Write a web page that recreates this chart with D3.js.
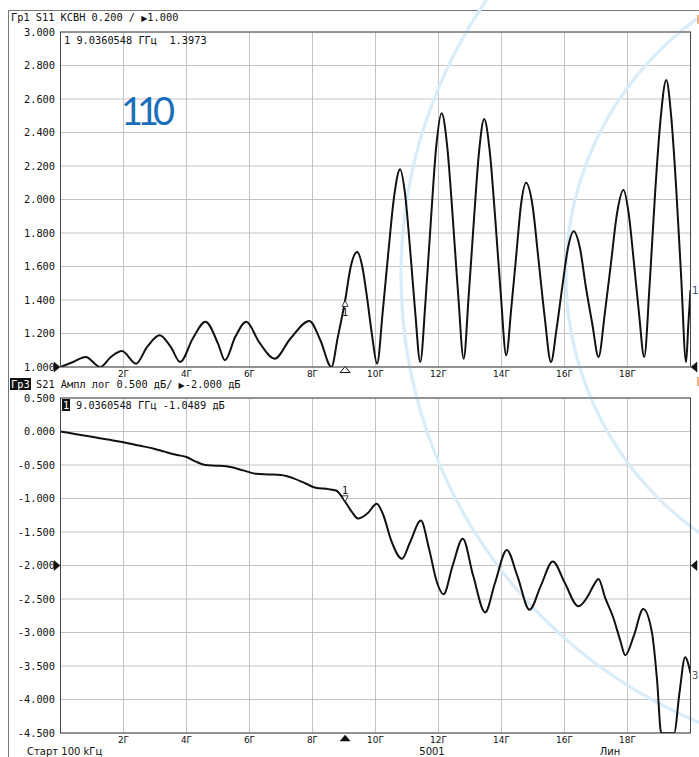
<!DOCTYPE html>
<html><head><meta charset="utf-8">
<script src="https://cdn.jsdelivr.net/npm/d3@7"></script>
<style>body{margin:0;background:#fff}svg{display:block}</style>
</head><body><svg id="c" width="699" height="757"></svg>
<script>
// ---------- data ----------
const freqTicks = [2, 4, 6, 8, 10, 12, 14, 16, 18];
const freqTickLabels = ["2Г", "4Г", "6Г", "8Г", "10Г", "12Г", "14Г", "16Г", "18Г"];
const vswrTicks = [3.0, 2.8, 2.6, 2.4, 2.2, 2.0, 1.8, 1.6, 1.4, 1.2, 1.0];
const vswrTickLabels = ["3.000", "2.800", "2.600", "2.400", "2.200", "2.000", "1.800", "1.600", "1.400", "1.200", "1.000"];
const dbTicks = [0.5, 0, -0.5, -1, -1.5, -2, -2.5, -3, -3.5, -4, -4.5];
const dbTickLabels = ["0.500", "0.000", "-0.500", "-1.000", "-1.500", "-2.000", "-2.500", "-3.000", "-3.500", "-4.000", "-4.500"];

const s11Freq = [0, 0.4, 0.8, 1.26, 1.6, 1.95, 2.4, 2.75, 3.15, 3.5, 3.8, 4.2, 4.6, 5.0, 5.22, 5.55, 5.9, 6.3, 6.8, 7.3, 7.9, 8.25, 8.6,
  8.805, 9.036, 9.215, 9.42, 9.58, 9.735, 9.89, 10.05, 10.23, 10.415, 10.6, 10.78, 10.94, 11.10, 11.26, 11.42,
  11.59, 11.76, 11.93, 12.1, 12.275, 12.45, 12.625, 12.8, 12.96, 13.125, 13.29, 13.45, 13.625, 13.80, 13.975, 14.15,
  14.31, 14.465, 14.62, 14.78, 14.98, 15.175, 15.37, 15.57, 15.75, 15.93, 16.11, 16.29, 16.49, 16.685, 16.88, 17.08,
  17.28, 17.475, 17.67, 17.87, 18.035, 18.2, 18.365, 18.53, 18.705, 18.88, 19.055, 19.23, 19.39, 19.545, 19.70, 19.86, 19.93, 20.0];
const s11Vswr = [1.00, 1.03, 1.06, 1.00, 1.06, 1.095, 1.02, 1.12, 1.19, 1.12, 1.03, 1.17, 1.27, 1.14, 1.04, 1.18, 1.27, 1.15, 1.05, 1.17, 1.275, 1.16, 1.00,
  1.18, 1.397, 1.60, 1.687, 1.60, 1.41, 1.19, 1.02, 1.33, 1.70, 2.03, 2.18, 2.03, 1.70, 1.33, 1.03,
  1.40, 1.88, 2.32, 2.515, 2.32, 1.90, 1.43, 1.05, 1.43, 1.88, 2.29, 2.48, 2.29, 1.89, 1.44, 1.07,
  1.35, 1.66, 1.97, 2.10, 1.97, 1.64, 1.30, 1.03, 1.23, 1.48, 1.71, 1.81, 1.71, 1.47, 1.26, 1.06,
  1.32, 1.62, 1.92, 2.057, 1.92, 1.63, 1.32, 1.06, 1.50, 2.05, 2.49, 2.713, 2.49, 2.07, 1.55, 1.03, 1.25, 1.46];

const s21Freq = [0, 0.5, 1.0, 1.5, 2.0, 2.5, 3.0, 3.3, 3.7, 4.0, 4.3, 4.6, 5.0, 5.4, 5.8, 6.2, 6.6, 7.0, 7.4, 7.8, 8.1, 8.5, 8.75,
  9.036, 9.25, 9.45, 9.75, 10.04, 10.25, 10.5, 10.84, 11.1, 11.44, 11.7, 11.95, 12.16, 12.45, 12.77, 13.1, 13.48, 13.8,
  14.17, 14.5, 14.89, 15.25, 15.63, 16.0, 16.44, 16.75, 16.92, 17.08, 17.29, 17.55, 17.77, 17.93, 18.2, 18.5, 18.78, 18.94,
  19.07, 19.27, 19.48, 19.65, 19.83, 20.0];
const s21Db = [0, -0.04, -0.08, -0.12, -0.16, -0.21, -0.26, -0.30, -0.35, -0.38, -0.45, -0.50, -0.51, -0.53, -0.58, -0.63, -0.64, -0.65, -0.70, -0.78, -0.84, -0.86, -0.88,
  -1.049, -1.20, -1.30, -1.22, -1.08, -1.25, -1.63, -1.90, -1.65, -1.33, -1.75, -2.25, -2.43, -2.00, -1.60, -2.15, -2.70, -2.25,
  -1.77, -2.15, -2.66, -2.30, -1.94, -2.25, -2.61, -2.45, -2.30, -2.20, -2.48, -2.78, -3.12, -3.34, -3.05, -2.65, -3.01, -3.72,
  -4.50, -4.75, -4.50, -3.90, -3.37, -3.61];

const markerFreq = 9.0360548, markerVswr = 1.3973, markerDb = -1.0489;

// ---------- layout ----------
const svg = d3.select("#c");
const X0 = 60.5, X1 = 690.5;
const x = d3.scaleLinear().domain([0, 20]).range([X0, X1]);
const yTop = d3.scaleLinear().domain([1, 3]).range([367, 32]);
const yBot = d3.scaleLinear().domain([-4.5, 0.5]).range([733, 398]);
const mono = "'DejaVu Sans Mono', monospace";
const sans = "'DejaVu Sans', sans-serif";

// outer frame
svg.append("line").attr("x1", 8.5).attr("x2", 699).attr("y1", 10.5).attr("y2", 10.5).attr("stroke", "#777");
svg.append("line").attr("x1", 8.5).attr("x2", 8.5).attr("y1", 10.5).attr("y2", 757).attr("stroke", "#777");

function panel(y, ticks, labels, clipId) {
  const g = svg.append("g");
  const [yb, yt] = y.range();
  g.selectAll(".hg").data(ticks).join("line")
    .attr("x1", X0).attr("x2", X1).attr("y1", d => y(d)).attr("y2", d => y(d))
    .attr("stroke", "#c4c4c4").attr("stroke-width", 1);
  g.selectAll(".vg").data(freqTicks).join("line")
    .attr("x1", d => x(d)).attr("x2", d => x(d)).attr("y1", yt).attr("y2", yb)
    .attr("stroke", "#c4c4c4").attr("stroke-width", 1);
  g.selectAll(".yl").data(ticks).join("text")
    .attr("x", 55).attr("y", d => y(d)).attr("dy", "0.35em")
    .attr("text-anchor", "end").attr("font-family", mono).attr("font-size", 10.3).attr("fill", "#111")
    .text((d, i) => labels[i]);
  g.selectAll(".xl").data(freqTicks).join("text")
    .attr("x", d => x(d)).attr("y", yb + 9.5)
    .attr("text-anchor", "middle").attr("font-family", sans).attr("font-size", 9).attr("fill", "#111")
    .text((d, i) => freqTickLabels[i]);
  svg.append("clipPath").attr("id", clipId).append("rect")
    .attr("x", X0).attr("y", yt).attr("width", X1 - X0).attr("height", yb - yt);
  return g;
}
panel(yTop, vswrTicks, vswrTickLabels, "clipTop");
panel(yBot, dbTicks, dbTickLabels, "clipBot");

// watermark arcs and logo
const wm = svg.append("g");
wm.append("circle").attr("cx", 886).attr("cy", 275).attr("r", 485).attr("fill", "none").attr("stroke", "#d9ecf9").attr("stroke-width", 3.2);
wm.append("circle").attr("cx", 882).attr("cy", 275).attr("r", 316).attr("fill", "none").attr("stroke", "#d9ecf9").attr("stroke-width", 3.2);
svg.append("text").attr("x", 121).attr("y", 124.5).attr("font-family", "Lato, sans-serif").attr("font-size", 38)
  .attr("font-weight", 400).attr("letter-spacing", -6).attr("fill", "#1b6fba").text("110");

// traces
const lineTop = d3.line().x(d => x(d[0])).y(d => yTop(d[1])).curve(d3.curveMonotoneX);
const lineBot = d3.line().x(d => x(d[0])).y(d => yBot(d[1])).curve(d3.curveMonotoneX);
svg.append("path").datum(d3.zip(s11Freq, s11Vswr)).attr("d", lineTop)
  .attr("fill", "none").attr("stroke", "#111").attr("stroke-width", 2).attr("clip-path", "url(#clipTop)");
svg.append("path").datum(d3.zip(s21Freq, s21Db.map(v => Math.max(v, -4.5)))).attr("d", lineBot)
  .attr("fill", "none").attr("stroke", "#111").attr("stroke-width", 2).attr("clip-path", "url(#clipBot)");

// frames
[yTop, yBot].forEach(y => {
  const [yb, yt] = y.range();
  svg.append("rect").attr("x", X0).attr("y", yt).attr("width", X1 - X0).attr("height", yb - yt)
    .attr("fill", "none").attr("stroke", "#444").attr("stroke-width", 1);
});

// headers
function header(xp, yp, parts) {
  const t = svg.append("text").attr("x", xp).attr("y", yp).attr("font-family", mono).attr("font-size", 10.3)
    .attr("fill", "#111").attr("xml:space", "preserve");
  parts.forEach(p => {
    if (p === "▶") t.append("tspan").attr("font-family", sans).attr("font-size", 8).text("▶");
    else t.append("tspan").attr("font-family", mono).attr("font-size", 10.3).text(p);
  });
  return t;
}
header(11, 21, ["Гр1 S11 КСВН 0.200 / ", "▶", "1.000"]);
svg.append("text").attr("x", 64).attr("y", 44).attr("font-family", mono).attr("font-size", 10.3).attr("fill", "#111")
  .attr("xml:space", "preserve").text("1 9.0360548 ГГц  1.3973");
svg.append("rect").attr("x", 10).attr("y", 378).attr("width", 21).attr("height", 12).attr("fill", "#111");
svg.append("text").attr("x", 11).attr("y", 388).attr("font-family", mono).attr("font-size", 10.3).attr("fill", "#fff").text("Гр3");
header(36, 388, ["S21 Ампл лог 0.500 дБ/ ", "▶", "-2.000 дБ"]);
svg.append("rect").attr("x", 62).attr("y", 399).attr("width", 8).attr("height", 12).attr("fill", "#111");
svg.append("text").attr("x", 63).attr("y", 409).attr("font-family", mono).attr("font-size", 10.3).attr("fill", "#fff").text("1");
svg.append("text").attr("x", 76).attr("y", 409).attr("font-family", mono).attr("font-size", 10.3).attr("fill", "#111")
  .text("9.0360548 ГГц -1.0489 дБ");

// triangles
function tri(px, py, dir, filled) {
  let pts;
  if (dir === "r") pts = [[px - 6, py - 5], [px, py], [px - 6, py + 5]];
  else if (dir === "l") pts = [[px + 6, py - 5], [px, py], [px + 6, py + 5]];
  else pts = [[px - 5, py + 6], [px, py], [px + 5, py + 6]];
  svg.append("polygon").attr("points", pts.map(p => p.join(",")).join(" "))
    .attr("fill", filled ? "#111" : "#fff").attr("stroke", "#111").attr("stroke-width", filled ? 0.5 : 1);
}
tri(60, yTop(1.0), "r", true);
tri(691, yTop(1.0), "l", true);
tri(60, yBot(-2.0), "r", true);
tri(691, yBot(-2.0), "l", true);
tri(x(markerFreq), 366.5, "u", false);
tri(x(markerFreq), 735, "u", true);

// markers on traces
const mxT = x(markerFreq), myT = yTop(markerVswr);
svg.append("polygon").attr("points", `${mxT - 3},${myT + 6} ${mxT},${myT} ${mxT + 3},${myT + 6}`)
  .attr("fill", "#fff").attr("stroke", "#111").attr("stroke-width", 0.8);
svg.append("text").attr("x", mxT).attr("y", myT + 16).attr("text-anchor", "middle").attr("font-family", mono)
  .attr("font-size", 10).attr("fill", "#111").text("1");
const myB = yBot(markerDb);
svg.append("polygon").attr("points", `${mxT - 3},${myB - 6} ${mxT},${myB} ${mxT + 3},${myB - 6}`)
  .attr("fill", "#fff").attr("stroke", "#111").attr("stroke-width", 0.8);
svg.append("text").attr("x", mxT).attr("y", myB - 8).attr("text-anchor", "middle").attr("font-family", mono)
  .attr("font-size", 10).attr("fill", "#111").text("1");

// trace-end labels
svg.append("text").attr("x", 692).attr("y", 294).attr("font-family", sans).attr("font-size", 10).attr("fill", "#33507a").text("1");
svg.append("text").attr("x", 692).attr("y", 679).attr("font-family", sans).attr("font-size", 10).attr("fill", "#555").text("3");
svg.append("rect").attr("x", 697).attr("y", 15).attr("width", 2).attr("height", 9).attr("fill", "#f2b27a");
svg.append("rect").attr("x", 697).attr("y", 377).attr("width", 2).attr("height", 9).attr("fill", "#f2b27a");

// status bar
svg.append("text").attr("x", 27).attr("y", 755).attr("font-family", sans).attr("font-size", 10).attr("fill", "#111").text("Старт 100 kГц");
svg.append("text").attr("x", 432).attr("y", 755).attr("text-anchor", "middle").attr("font-family", sans).attr("font-size", 10).attr("fill", "#111").text("5001");
svg.append("text").attr("x", 610).attr("y", 755).attr("text-anchor", "middle").attr("font-family", sans).attr("font-size", 10).attr("fill", "#111").text("Лин");
</script></body></html>
